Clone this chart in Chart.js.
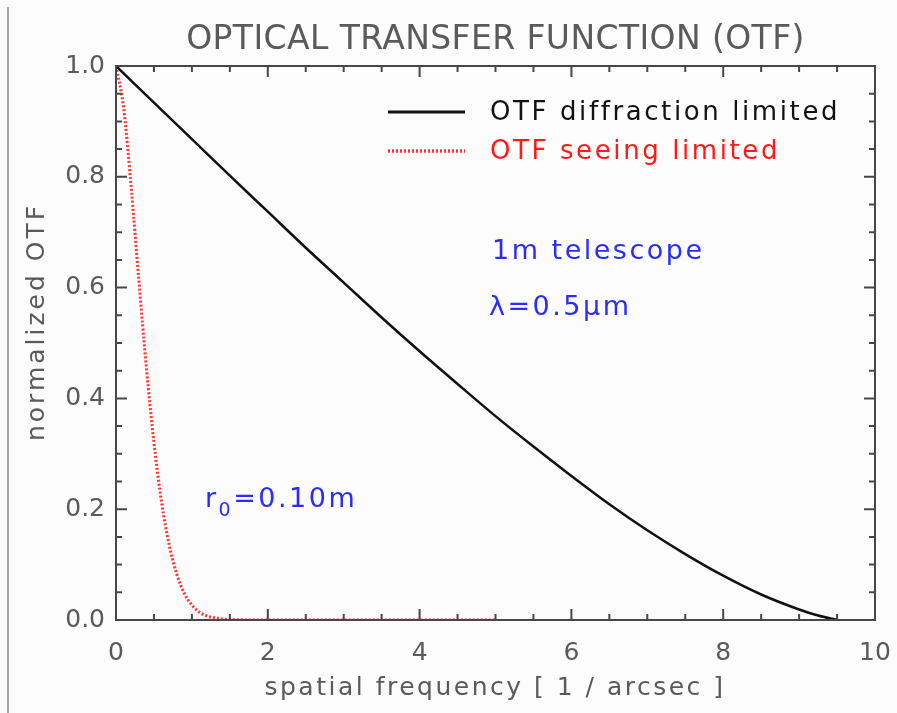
<!DOCTYPE html>
<html>
<head>
<meta charset="utf-8">
<title>Optical transfer function</title>
<script src="https://cdn.jsdelivr.net/npm/chart.js@4.4.1/dist/chart.umd.min.js"></script>
<style>
  html, body { margin: 0; padding: 0; background: #fcfcfc; }
  canvas { display: block; }
</style>
</head>
<body>
<canvas id="otfChart" width="897" height="713"></canvas>
<script>
// spatial frequency in 1/arcsec, OTF normalized to 1 at zero frequency
const freqDiffraction = [0, 0.5, 1, 1.5, 2, 2.5, 3, 3.5, 4, 4.5, 5, 5.5, 6, 6.5, 7, 7.5, 8, 8.5, 9, 9.25, 9.5];
const otfDiffraction = [1.000, 0.934, 0.868, 0.802, 0.737, 0.672, 0.609, 0.546, 0.485, 0.426, 0.368, 0.313, 0.260, 0.209, 0.162, 0.119, 0.080, 0.046, 0.019, 0.008, 0.000];

const freqSeeing = [0, 0.1, 0.2, 0.3, 0.4, 0.5, 0.6, 0.7, 0.8, 0.9, 1.0, 1.1, 1.2, 1.3, 1.4, 1.5, 2, 3, 4, 5];
const otfSeeing = [1.000, 0.925, 0.781, 0.615, 0.456, 0.320, 0.213, 0.136, 0.083, 0.048, 0.027, 0.014, 0.007, 0.004, 0.002, 0.001, 0, 0, 0, 0];

const xTickValues = [0, 2, 4, 6, 8, 10];
const yTickValues = [0, 0.2, 0.4, 0.6, 0.8, 1.0];

const seriesLabels = ['OTF diffraction limited', 'OTF seeing limited'];
const notes = ['1m telescope', 'λ=0.5μm'];

const FONT = '"DejaVu Sans", sans-serif';
const AXIS_COLOR = '#474747';
const TEXT_GRAY = '#5a5a5a';
const NOTE_BLUE = '#2b2bff';

function toPoints(xs, ys) {
    return xs.map((x, i) => ({ x: x, y: ys[i] }));
}

// frame, inward ticks, title, legend and the blue notes
const decorations = {
    id: 'decorations',
    afterDraw(chart) {
        const ctx = chart.ctx;
        const area = chart.chartArea;
        const xs = chart.scales.x;
        const ys = chart.scales.y;

        ctx.save();

        // thin line down the left edge of the figure
        ctx.strokeStyle = '#8a8a8a';
        ctx.lineWidth = 1.5;
        ctx.beginPath();
        ctx.moveTo(8, 7);
        ctx.lineTo(8, chart.height);
        ctx.stroke();

        ctx.strokeStyle = AXIS_COLOR;
        ctx.lineWidth = 2;
        ctx.strokeRect(area.left, area.top, area.right - area.left, area.bottom - area.top);

        ctx.beginPath();
        for (let k = 0; k <= 20; k++) {
            const px = xs.getPixelForValue(k * 0.5);
            const len = k % 4 === 0 ? 11 : 6;
            ctx.moveTo(px, area.bottom);
            ctx.lineTo(px, area.bottom - len);
            ctx.moveTo(px, area.top);
            ctx.lineTo(px, area.top + len);
        }
        for (let k = 0; k <= 20; k++) {
            const py = ys.getPixelForValue(k * 0.05);
            const len = k % 4 === 0 ? 11 : 6;
            ctx.moveTo(area.left, py);
            ctx.lineTo(area.left + len, py);
            ctx.moveTo(area.right, py);
            ctx.lineTo(area.right - len, py);
        }
        ctx.stroke();

        // title
        ctx.fillStyle = TEXT_GRAY;
        ctx.textBaseline = 'alphabetic';
        ctx.textAlign = 'center';
        ctx.font = '33px ' + FONT;
        ctx.letterSpacing = '0.4px';
        ctx.fillText('OPTICAL TRANSFER FUNCTION (OTF)', (area.left + area.right) / 2, 49);

        // axis titles
        ctx.font = '25px ' + FONT;
        ctx.letterSpacing = '2.5px';
        ctx.fillText('spatial frequency [ 1 / arcsec ]', 495, 695);
        ctx.save();
        ctx.translate(44, 322);
        ctx.rotate(-Math.PI / 2);
        ctx.letterSpacing = '3px';
        ctx.fillText('normalized OTF', 0, 0);
        ctx.restore();

        // legend
        const sets = chart.data.datasets;
        ctx.textAlign = 'left';
        ctx.font = '26px ' + FONT;
        ctx.letterSpacing = '2.6px';
        const rows = [112, 151];
        sets.forEach((ds, i) => {
            ctx.strokeStyle = ds.borderColor;
            ctx.lineWidth = ds.borderWidth + 0.5;
            ctx.setLineDash(ds.borderDash || []);
            ctx.beginPath();
            ctx.moveTo(388, rows[i]);
            ctx.lineTo(465, rows[i]);
            ctx.stroke();
            ctx.setLineDash([]);
            ctx.fillStyle = ds.legendColor;
            ctx.fillText(ds.label, 490, rows[i] + 8);
        });

        // annotations
        ctx.fillStyle = NOTE_BLUE;
        ctx.font = '27px ' + FONT;
        ctx.letterSpacing = '2.5px';
        ctx.fillText(notes[0], 492, 259);
        ctx.fillText(notes[1], 489, 315);

        ctx.fillText('r', 205, 507);
        let w = ctx.measureText('r').width;
        ctx.font = '19px ' + FONT;
        ctx.fillText('0', 205 + w, 516);
        w += ctx.measureText('0').width;
        ctx.font = '27px ' + FONT;
        ctx.fillText('=0.10m', 205 + w, 507);

        ctx.restore();
    }
};

const ctx = document.getElementById('otfChart').getContext('2d');

new Chart(ctx, {
    type: 'line',
    data: {
        datasets: [{
            label: seriesLabels[0],
            data: toPoints(freqDiffraction, otfDiffraction),
            borderColor: '#111111',
            legendColor: '#111111',
            borderWidth: 2.5,
            pointRadius: 0,
            cubicInterpolationMode: 'monotone'
        }, {
            label: seriesLabels[1],
            data: toPoints(freqSeeing, otfSeeing),
            borderColor: '#ff3535',
            legendColor: '#ff1a1a',
            borderWidth: 3,
            borderDash: [2, 2],
            pointRadius: 0,
            cubicInterpolationMode: 'monotone'
        }]
    },
    options: {
        responsive: false,
        animation: false,
        devicePixelRatio: 1,
        layout: { padding: { left: 0, right: 22, top: 66, bottom: 0 } },
        plugins: {
            legend: { display: false },
            title: { display: false },
            tooltip: { enabled: false }
        },
        scales: {
            x: {
                type: 'linear',
                min: 0,
                max: 10,
                afterFit(scale) {
                    scale.height = 93;
                    scale.paddingLeft = 0;
                    scale.paddingRight = 0;
                },
                afterBuildTicks(scale) { scale.ticks = xTickValues.map(v => ({ value: v })); },
                grid: { display: false, drawTicks: false },
                border: { display: false },
                ticks: {
                    color: TEXT_GRAY,
                    font: { family: FONT, size: 25 },
                    padding: 18,
                    maxRotation: 0
                }
            },
            y: {
                type: 'linear',
                min: 0,
                max: 1,
                afterFit(scale) {
                    scale.width = 116;
                    scale.paddingTop = 0;
                    scale.paddingBottom = 0;
                },
                afterBuildTicks(scale) { scale.ticks = yTickValues.map(v => ({ value: v })); },
                grid: { display: false, drawTicks: false },
                border: { display: false },
                ticks: {
                    color: TEXT_GRAY,
                    font: { family: FONT, size: 25 },
                    padding: 11,
                    callback: v => v.toFixed(1)
                }
            }
        }
    },
    plugins: [decorations]
});
</script>
</body>
</html>
